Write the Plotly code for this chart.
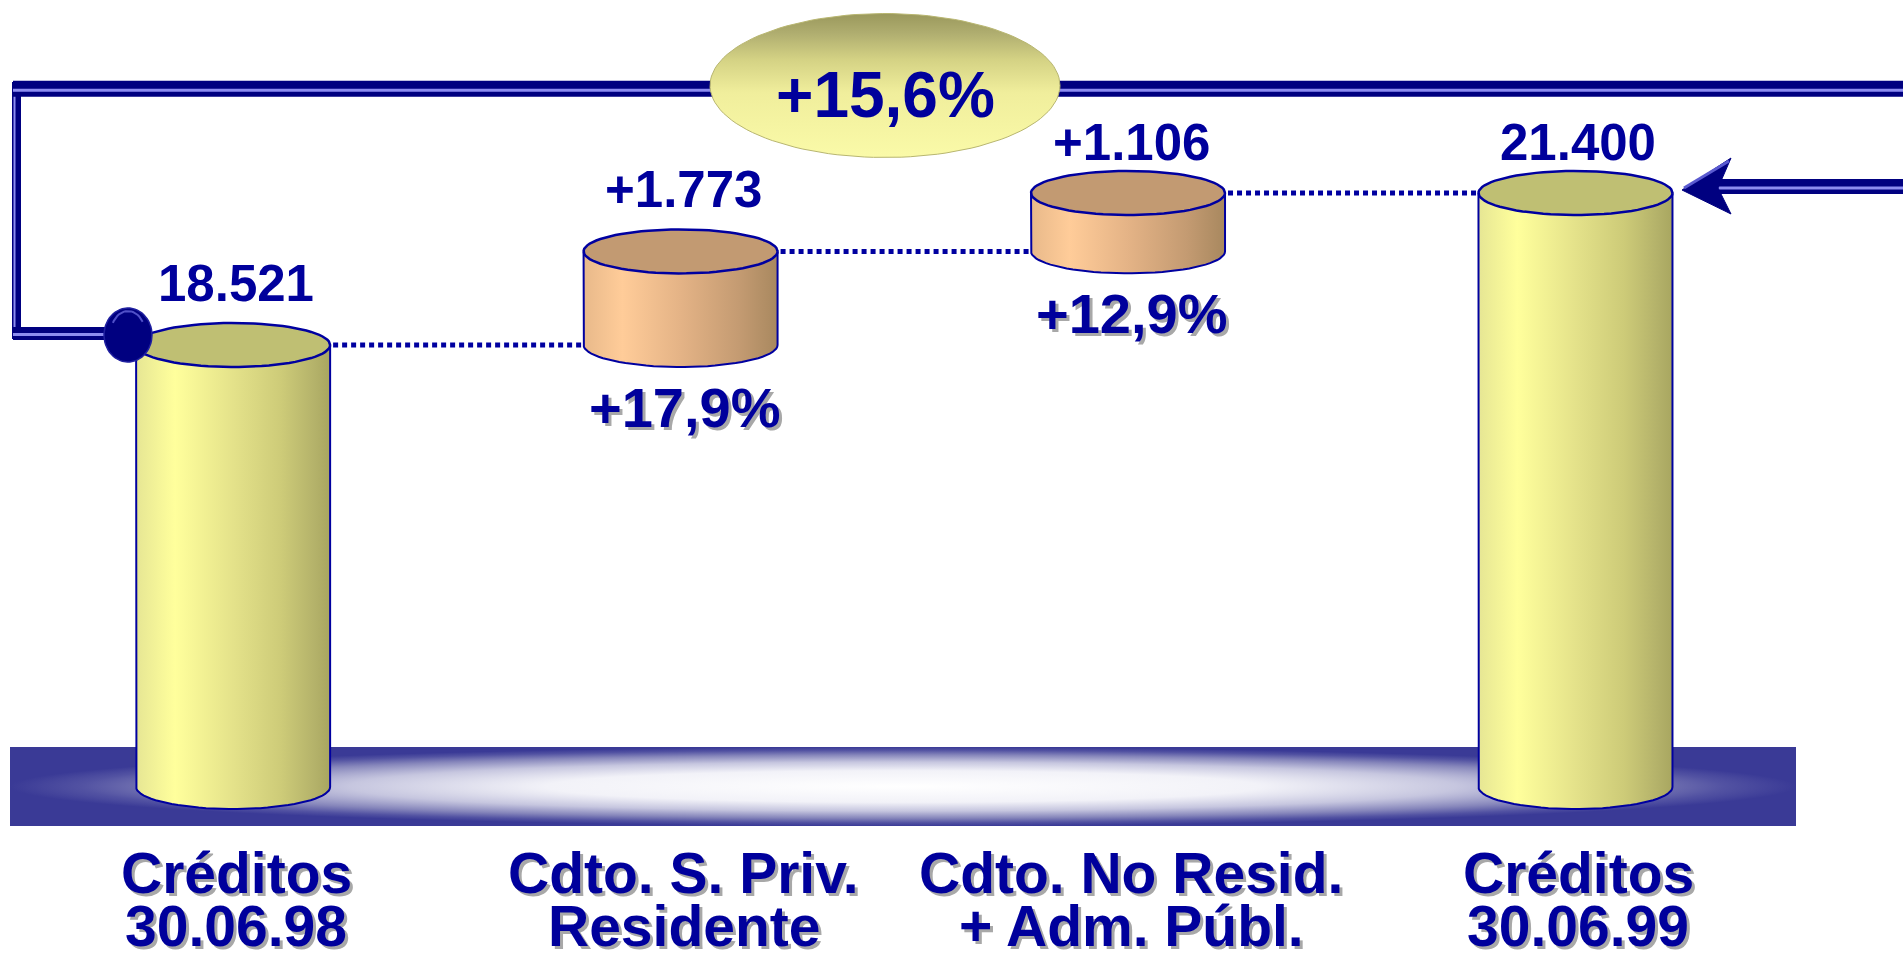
import numpy as np
import plotly.graph_objects as go

# chart data
cat_line1 = ["Créditos", "Cdto. S. Priv.", "Cdto. No Resid.", "Créditos"]
cat_line2 = ["30.06.98", "Residente", "+ Adm. Públ.", "30.06.99"]
measures = ["absolute", "relative", "relative", "total"]
values = [18521, 1773, 1106, 21400]
value_labels = ["18.521", "+1.773", "+1.106", "21.400"]
pct_labels = ["", "+17,9%", "+12,9%", ""]
total_growth = "+15,6%"

AXIS_FLOOR = 10150  # value axis is cut, cylinders start here

W, H = 1903, 953
X_LO, X_HI = -0.521, 3.732
Y_LO, Y_HI = 7006, 25055

NAVY = "#000080"
TXT = "#00009c"
FONT = "Arial, Liberation Sans, sans-serif"


def px_x(p):
    return X_LO + p / W * (X_HI - X_LO)


def px_y(p):
    return Y_HI - p / H * (Y_HI - Y_LO)


DX = (X_HI - X_LO) / W
DY = (Y_HI - Y_LO) / H
HALF_W = 97 * DX      # half bar width
RY = 22 * DY          # ellipse half height

# waterfall bases / tops
bases, tops = [], []
running = 0
for m, v in zip(measures, values):
    if m == "absolute":
        bases.append(AXIS_FLOOR); running = v
    elif m == "relative":
        bases.append(running); running += v
    else:
        bases.append(AXIS_FLOOR); running = v
    tops.append(running)

xs = list(range(len(values)))

fig = go.Figure()

# platform
plat_x = [px_x(10), px_x(1796), px_x(1796), px_x(10), px_x(10)]
plat_y = [px_y(747), px_y(747), px_y(826), px_y(826), px_y(747)]
fig.add_trace(go.Scatter(
    x=plat_x, y=plat_y, mode="lines", fill="toself", line=dict(width=0),
    fillgradient=dict(type="radial", colorscale=[
        [0, "#ffffff"], [0.4, "#f2f2f8"], [0.62, "#c6c6df"],
        [0.8, "#8686bb"], [0.92, "#5252a2"], [1, "#3a3a96"]]),
    hoverinfo="skip", showlegend=False))

# dotted connectors
for i in range(len(values) - 1):
    fig.add_trace(go.Scatter(
        x=[xs[i] + HALF_W + 3 * DX, xs[i + 1] - HALF_W], y=[tops[i], tops[i]],
        mode="lines", line=dict(color="#0000a0", width=5, dash="5px,4px"),
        hoverinfo="skip", showlegend=False))

yellow_body = [[0, "#e6e694"], [0.2, "#ffff9c"], [0.5, "#e4e28a"],
               [0.75, "#cdcb78"], [0.92, "#b4b26a"], [1, "#a8a660"]]
orange_body = [[0, "#e8b98a"], [0.2, "#ffcc99"], [0.5, "#e4b386"],
               [0.8, "#c49b72"], [1, "#a8885f"]]

t_bot = np.linspace(np.pi, 2 * np.pi, 40)
t_full = np.linspace(0, 2 * np.pi, 80)
for x, b, t, m in zip(xs, bases, tops, measures):
    body = orange_body if m == "relative" else yellow_body
    lid = "#c29a72" if m == "relative" else "#bfbf73"
    bx = [x - HALF_W] + list(x + HALF_W * np.cos(t_bot)) + [x + HALF_W, x - HALF_W]
    by = [t] + list(b + RY * np.sin(t_bot)) + [t, t]
    fig.add_trace(go.Scatter(
        x=bx, y=by, mode="lines", fill="toself",
        fillgradient=dict(type="horizontal", colorscale=body),
        line=dict(color="#0000a0", width=2), hoverinfo="skip", showlegend=False))
    fig.add_trace(go.Scatter(
        x=x + HALF_W * np.cos(t_full), y=t + RY * np.sin(t_full),
        mode="lines", fill="toself", fillcolor=lid,
        line=dict(color="#0000a0", width=2.5), hoverinfo="skip", showlegend=False))

# connector pipe from the first bar to the top
def pipe(xp, yp, width, stripe_dx=0, stripe_dy=0, stripe_w=3):
    fig.add_trace(go.Scatter(
        x=[px_x(p) for p in xp], y=[px_y(p) for p in yp], mode="lines",
        line=dict(color=NAVY, width=width), hoverinfo="skip", showlegend=False))
    fig.add_trace(go.Scatter(
        x=[px_x(p + stripe_dx) for p in xp], y=[px_y(p + stripe_dy) for p in yp],
        mode="lines", line=dict(color="#8c8cf0", width=stripe_w),
        hoverinfo="skip", showlegend=False))

pipe([16.5, 16.5], [82, 339], 9, stripe_dx=-2, stripe_w=2)
pipe([13, 1903], [88.7, 88.7], 16, stripe_dy=1.5)
pipe([13, 118], [333.5, 333.5], 13, stripe_dy=1)

# knob at the first cylinder
tk = np.linspace(0, 2 * np.pi, 60)
fig.add_trace(go.Scatter(
    x=px_x(128) + 24 * DX * np.cos(tk), y=px_y(335) + 27 * DY * np.sin(tk),
    mode="lines", fill="toself", fillcolor=NAVY, line=dict(color="#2020a0", width=1.5),
    hoverinfo="skip", showlegend=False))
fig.add_trace(go.Scatter(
    x=px_x(128) + 17 * DX * np.cos(tk[5:26]), y=px_y(333) + 22 * DY * np.sin(tk[5:26]),
    mode="lines", line=dict(color="#5050c8", width=2), hoverinfo="skip", showlegend=False))

# arrow into the last cylinder
pipe([1716, 1903], [186.5, 186.5], 15, stripe_dy=1.5)
ax = [1682, 1731, 1718, 1731, 1682]
ay = [190, 158, 188, 214, 190]
fig.add_trace(go.Scatter(
    x=[px_x(p) for p in ax], y=[px_y(p) for p in ay], mode="lines", fill="toself",
    fillcolor=NAVY, line=dict(color=NAVY, width=1), hoverinfo="skip", showlegend=False))
fig.add_trace(go.Scatter(
    x=[px_x(1684), px_x(1729)], y=[px_y(188), px_y(161)], mode="lines",
    line=dict(color="#5a5ad0", width=3), hoverinfo="skip", showlegend=False))

# growth bubble
te = np.linspace(0, 2 * np.pi, 120)
fig.add_trace(go.Scatter(
    x=px_x(885) + 175 * DX * np.cos(te), y=px_y(85.5) + 72 * DY * np.sin(te),
    mode="lines", fill="toself", line=dict(color="#b8b670", width=1),
    fillgradient=dict(type="vertical", colorscale=[
        [0, "#fafaa8"], [0.45, "#f0ee9c"], [0.68, "#d4d284"],
        [0.86, "#b0ae70"], [1, "#9a985c"]]),
    hoverinfo="skip", showlegend=False))

annotations = []


def text(x, y, s, size, xshift=0, yshift=0, shadow=False):
    if shadow:
        annotations.append(dict(
            x=x, y=y, text=s, showarrow=False, xshift=xshift + 3, yshift=yshift - 3,
            font=dict(family=FONT, size=size, color="#a8a8a8", weight="bold")))
    annotations.append(dict(
        x=x, y=y, text=s, showarrow=False, xshift=xshift, yshift=yshift,
        font=dict(family=FONT, size=size, color=TXT, weight="bold")))


lift = [62, 62, 50, 50]
for x, t, lab, l in zip(xs, tops, value_labels, lift):
    text(x, t, lab, 51, xshift=3, yshift=l)
for x, b, lab in zip(xs, bases, pct_labels):
    if lab:
        text(x, b, lab, 56, xshift=4, yshift=-62, shadow=True)
for x, l1, l2 in zip(xs, cat_line1, cat_line2):
    text(x, px_y(873), l1, 57, xshift=3, shadow=True)
    text(x, px_y(926), l2, 57, xshift=3, shadow=True)
text(px_x(885), px_y(95), total_growth, 64)

fig.update_layout(
    width=W, height=H, margin=dict(l=0, r=0, t=0, b=0),
    plot_bgcolor="white", paper_bgcolor="white", showlegend=False,
    xaxis=dict(range=[X_LO, X_HI], visible=False, fixedrange=True),
    yaxis=dict(range=[Y_LO, Y_HI], visible=False, fixedrange=True),
    annotations=annotations,
)

fig.write_html("out.html", config={"displayModeBar": False},
               post_script="document.body.style.margin='0';document.body.style.overflow='hidden';")
